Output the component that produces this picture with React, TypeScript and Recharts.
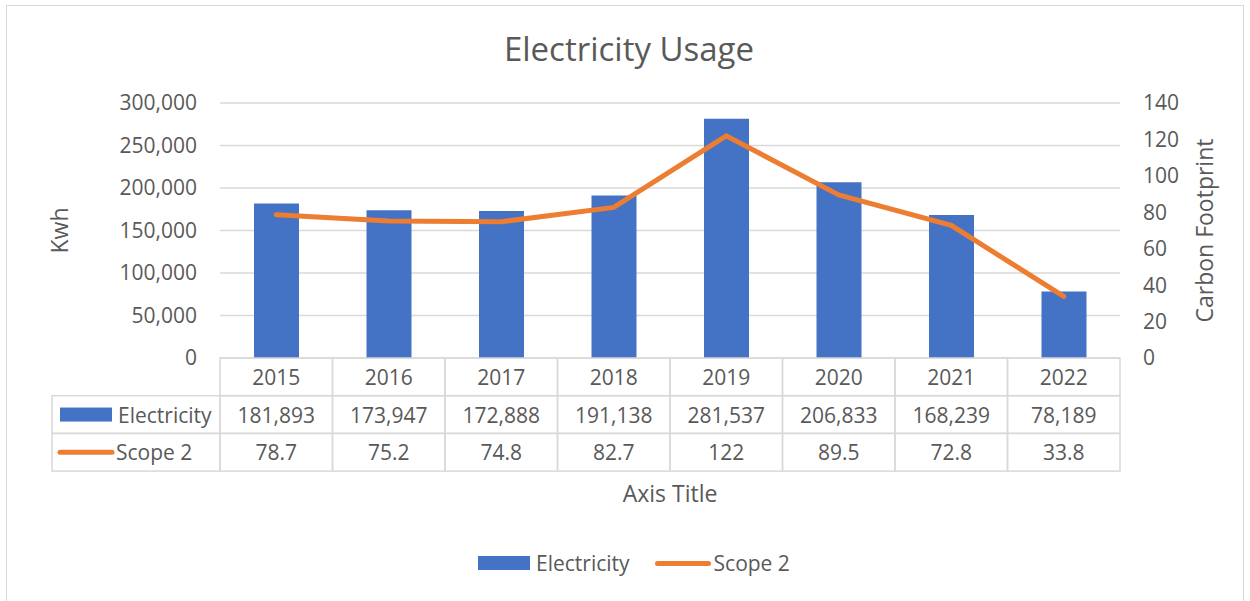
import React from "react";
import {
  ComposedChart,
  Bar,
  Line,
  XAxis,
  YAxis,
  CartesianGrid,
} from "recharts";

const years = ["2015", "2016", "2017", "2018", "2019", "2020", "2021", "2022"];
const electricity = [181893, 173947, 172888, 191138, 281537, 206833, 168239, 78189];
const scope2 = [78.7, 75.2, 74.8, 82.7, 122, 89.5, 72.8, 33.8];
const kwhTicks = [0, 50000, 100000, 150000, 200000, 250000, 300000];
const carbonTicks = [0, 20, 40, 60, 80, 100, 120, 140];

const BLUE = "#4472C4";
const ORANGE = "#ED7D31";
const TEXT = "#595959";
const GRID = "#d9d9d9";
const FONT = "'Open Sans', sans-serif";

const W = 1250;
const H = 601;
const PLOT_LEFT = 220;
const PLOT_RIGHT = 1120;
const PLOT_TOP = 103;
const PLOT_BOTTOM = 358;
const BAND = (PLOT_RIGHT - PLOT_LEFT) / years.length;
const ROW_H = 37.7;
const HEAD_W = 168;

const data = years.map((y, i) => ({
  year: y,
  electricity: electricity[i],
  scope2: scope2[i],
}));

const fmt = (v: number) => v.toLocaleString("en-US");

function TableTick(props: any) {
  const { x, y, index } = props;
  const left = x - BAND / 2;
  const top = y;
  const cells = [years[index], fmt(electricity[index]), String(scope2[index])];
  return (
    <g>
      {cells.map((c, r) => (
        <g key={r}>
          <rect
            x={left}
            y={top + r * ROW_H}
            width={BAND}
            height={ROW_H}
            fill="none"
            stroke={GRID}
            strokeWidth={1.5}
          />
          <text
            x={x}
            y={top + r * ROW_H + ROW_H / 2}
            textAnchor="middle"
            dominantBaseline="central"
            fill={TEXT}
            fontSize={21}
            fontFamily={FONT}
          >
            {c}
          </text>
        </g>
      ))}
      {index === 0 && (
        <g>
          <rect
            x={left - HEAD_W}
            y={top + ROW_H}
            width={HEAD_W}
            height={ROW_H}
            fill="none"
            stroke={GRID}
            strokeWidth={1.5}
          />
          <rect
            x={left - HEAD_W}
            y={top + ROW_H * 2}
            width={HEAD_W}
            height={ROW_H}
            fill="none"
            stroke={GRID}
            strokeWidth={1.5}
          />
          <rect x={left - HEAD_W + 8} y={top + ROW_H * 1.5 - 7} width={52} height={14} fill={BLUE} />
          <text
            x={left - HEAD_W + 66}
            y={top + ROW_H * 1.5}
            dominantBaseline="central"
            fill={TEXT}
            fontSize={21}
            fontFamily={FONT}
          >
            Electricity
          </text>
          <line
            x1={left - HEAD_W + 8}
            x2={left - HEAD_W + 60}
            y1={top + ROW_H * 2.5}
            y2={top + ROW_H * 2.5}
            stroke={ORANGE}
            strokeWidth={5}
            strokeLinecap="round"
          />
          <text
            x={left - HEAD_W + 64}
            y={top + ROW_H * 2.5}
            dominantBaseline="central"
            fill={TEXT}
            fontSize={21}
            fontFamily={FONT}
          >
            Scope 2
          </text>
        </g>
      )}
    </g>
  );
}

export default function App() {
  return (
    <div
      style={{
        position: "absolute",
        left: 0,
        top: 0,
        width: W,
        height: H,
        background: "#fff",
        fontFamily: FONT,
        overflow: "hidden",
      }}
    >
      <div
        style={{
          position: "absolute",
          left: 6,
          top: 5,
          width: 1238,
          height: 600,
          border: `1.5px solid ${GRID}`,
          boxSizing: "border-box",
        }}
      />
      <div
        style={{
          position: "absolute",
          left: 0,
          width: 1258,
          top: 27,
          textAlign: "center",
          fontSize: 33,
          color: TEXT,
          lineHeight: "44px",
        }}
      >
        Electricity Usage
      </div>
      <div style={{ position: "absolute", left: 0, top: 0 }}>
        <ComposedChart
          width={W}
          height={H}
          data={data}
          margin={{ top: PLOT_TOP, right: 0, bottom: 0, left: 0 }}
        >
          <CartesianGrid vertical={false} stroke={GRID} strokeWidth={1.5} yAxisId="kwh" />
          <XAxis
            dataKey="year"
            height={H - PLOT_BOTTOM}
            axisLine={false}
            tickLine={false}
            tickSize={0}
            tickMargin={0}
            interval={0}
            tick={<TableTick />}
          />
          <YAxis
            yAxisId="kwh"
            width={PLOT_LEFT}
            domain={[0, 300000]}
            ticks={kwhTicks}
            tickFormatter={fmt}
            axisLine={false}
            tickLine={false}
            tickSize={0}
            tickMargin={23}
            tick={{ fill: TEXT, fontSize: 21, fontFamily: FONT }}
            label={{
              value: "Kwh",
              angle: -90,
              position: "center",
              dx: -50,
              fill: TEXT,
              fontSize: 23,
              fontFamily: FONT,
            }}
          />
          <YAxis
            yAxisId="co2"
            orientation="right"
            width={W - PLOT_RIGHT}
            domain={[0, 140]}
            ticks={carbonTicks}
            axisLine={false}
            tickLine={false}
            tickSize={0}
            tickMargin={23}
            tick={{ fill: TEXT, fontSize: 21, fontFamily: FONT }}
            label={{
              value: "Carbon Footprint",
              angle: -90,
              position: "center",
              dx: 20,
              fill: TEXT,
              fontSize: 23,
              fontFamily: FONT,
            }}
          />
          <Bar
            yAxisId="kwh"
            dataKey="electricity"
            name="Electricity"
            fill={BLUE}
            barSize={45}
            isAnimationActive={false}
          />
          <Line
            yAxisId="co2"
            dataKey="scope2"
            name="Scope 2"
            type="linear"
            stroke={ORANGE}
            strokeWidth={5}
            strokeLinecap="round"
            dot={false}
            activeDot={false}
            isAnimationActive={false}
          />
        </ComposedChart>
      </div>
      <div
        style={{
          position: "absolute",
          left: PLOT_LEFT,
          width: PLOT_RIGHT - PLOT_LEFT,
          top: 477,
          textAlign: "center",
          fontSize: 23,
          color: TEXT,
          lineHeight: "32px",
        }}
      >
        Axis Title
      </div>
      <div
        style={{
          position: "absolute",
          left: 478,
          top: 548,
          display: "flex",
          alignItems: "center",
          fontSize: 21,
          color: TEXT,
          lineHeight: "30px",
        }}
      >
        <span style={{ width: 52, height: 14, background: BLUE, display: "inline-block" }} />
        <span style={{ marginLeft: 6 }}>Electricity</span>
        <span
          style={{
            width: 56,
            height: 5,
            borderRadius: 3,
            background: ORANGE,
            display: "inline-block",
            marginLeft: 25,
          }}
        />
        <span style={{ marginLeft: 3 }}>Scope 2</span>
      </div>
    </div>
  );
}
